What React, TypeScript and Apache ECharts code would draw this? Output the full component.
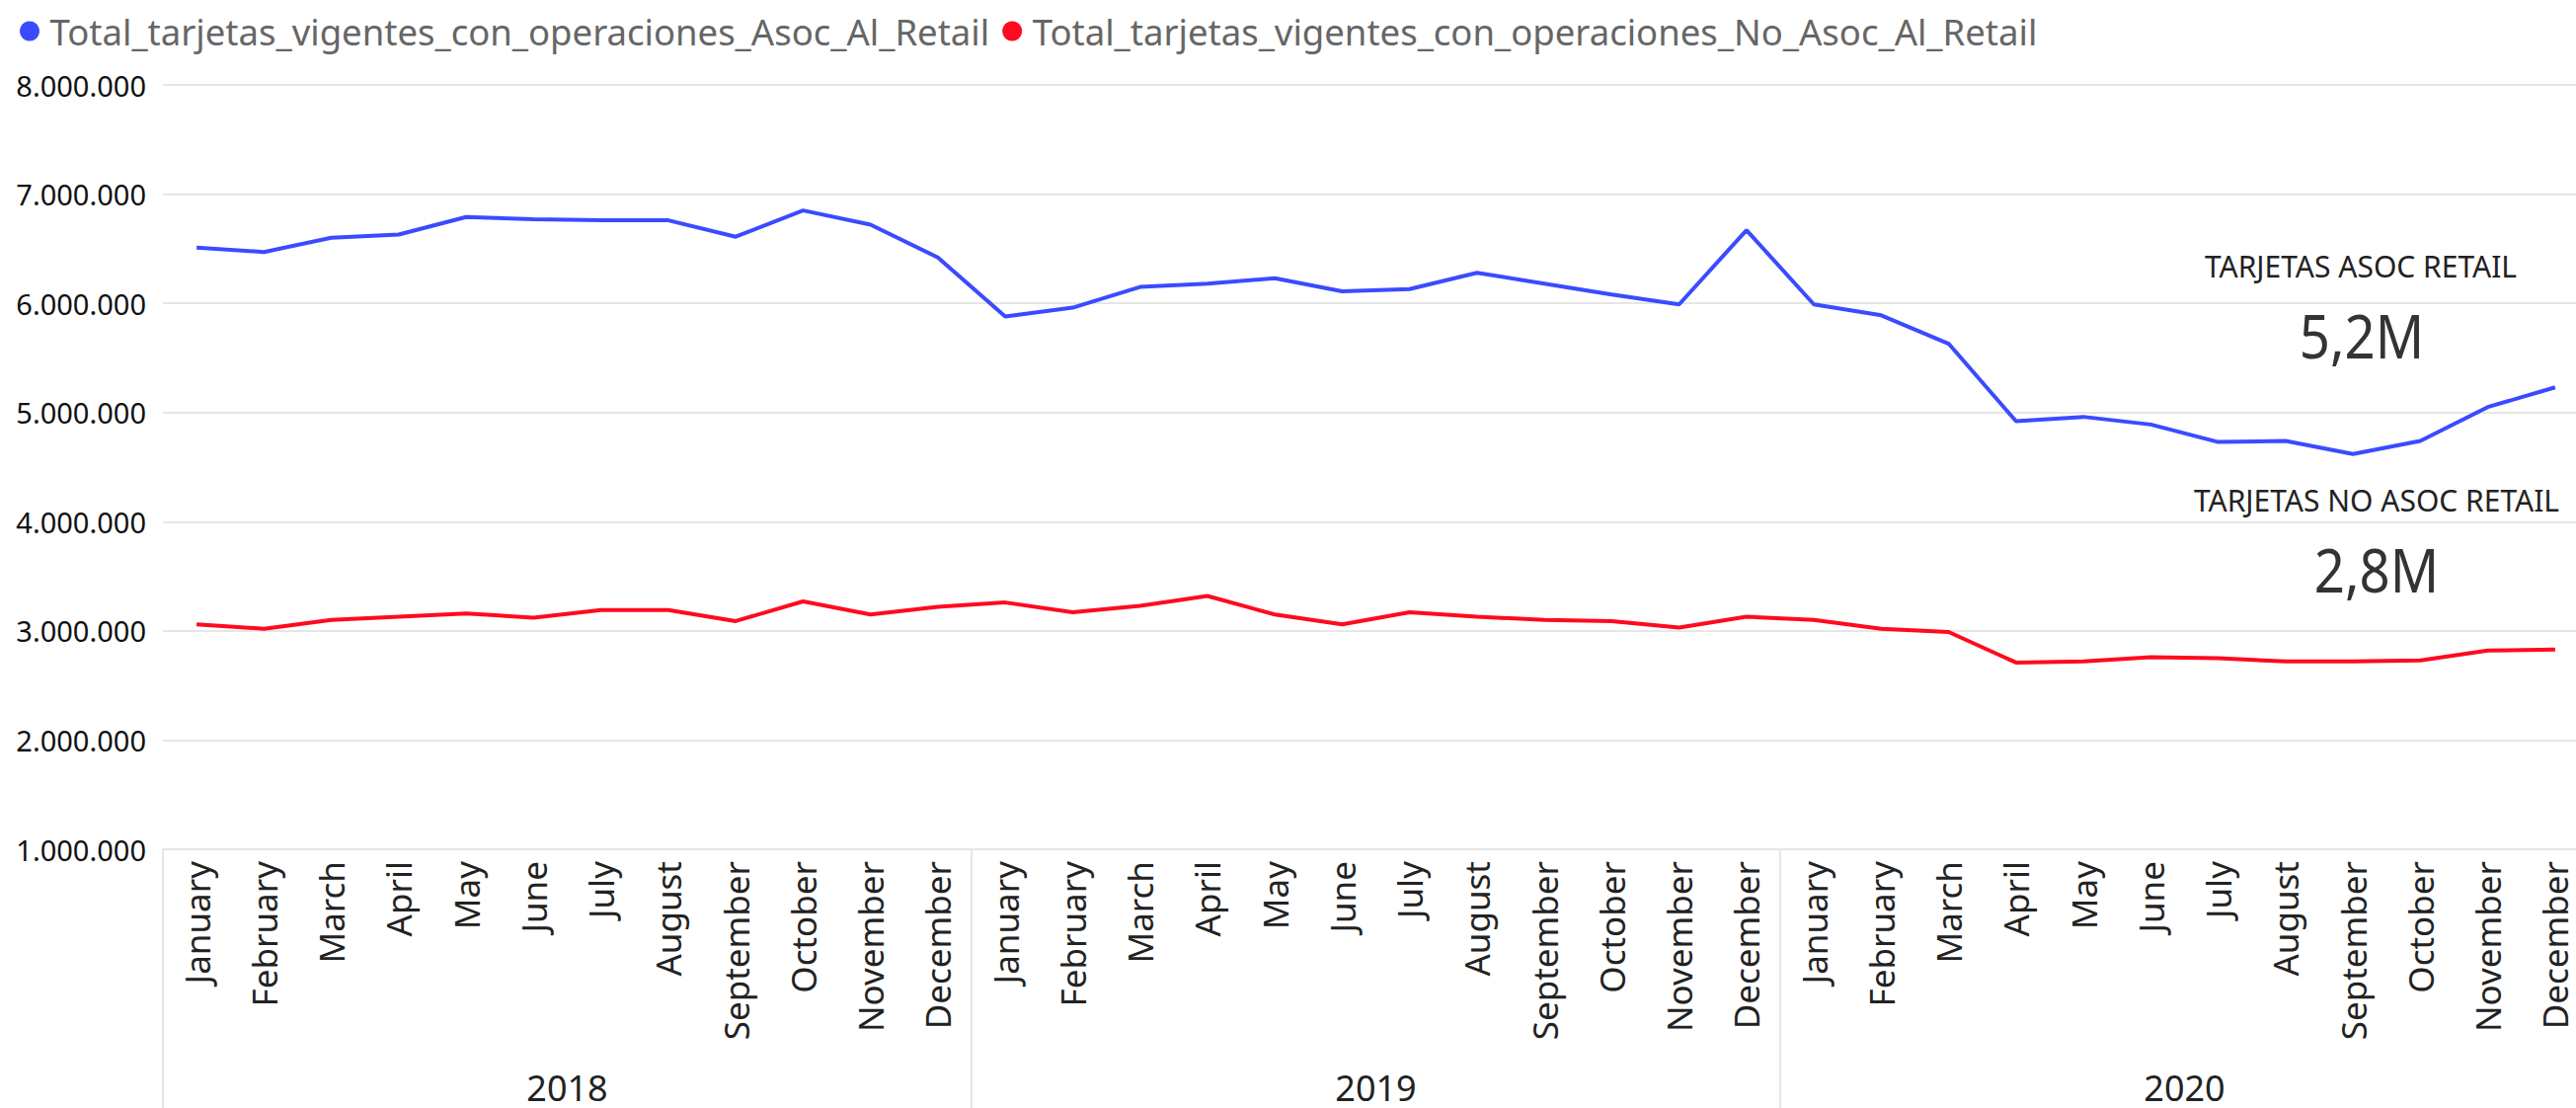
import React, { useEffect, useRef } from "react";
import * as echarts from "echarts";

const years = ["2018", "2019", "2020"];
const months = [
  "January", "February", "March", "April", "May", "June",
  "July", "August", "September", "October", "November", "December",
];
const seriesAsocName = "Total_tarjetas_vigentes_con_operaciones_Asoc_Al_Retail";
const seriesNoAsocName = "Total_tarjetas_vigentes_con_operaciones_No_Asoc_Al_Retail";

const asocValues = [
  6510000, 6470000, 6600000, 6630000, 6790000, 6770000, 6760000, 6760000, 6610000, 6850000, 6720000, 6420000,
  5880000, 5960000, 6150000, 6180000, 6230000, 6110000, 6130000, 6280000, 6180000, 6080000, 5990000, 6670000,
  5990000, 5890000, 5630000, 4920000, 4960000, 4890000, 4730000, 4740000, 4620000, 4740000, 5050000, 5230000,
];
const noAsocValues = [
  3060000, 3020000, 3100000, 3130000, 3160000, 3120000, 3190000, 3190000, 3090000, 3270000, 3150000, 3220000,
  3260000, 3170000, 3230000, 3320000, 3150000, 3060000, 3170000, 3130000, 3100000, 3090000, 3030000, 3130000,
  3100000, 3020000, 2990000, 2710000, 2720000, 2760000, 2750000, 2720000, 2720000, 2730000, 2820000, 2830000,
];
const annotationTitles = ["TARJETAS ASOC RETAIL", "TARJETAS NO ASOC RETAIL"];
const yTicks = { min: 1000000, max: 8000000, interval: 1000000 };

const BLUE = "#3a4bff";
const RED = "#ff0a1e";
const FONT = "'Noto Sans', 'Open Sans', sans-serif";

const fmtThousands = (v: number) =>
  String(Math.round(v)).replace(/\B(?=(\d{3})+(?!\d))/g, ".");
const fmtMillions = (v: number) => (v / 1e6).toFixed(1).replace(".", ",") + "M";

export default function App() {
  const ref = useRef<HTMLDivElement>(null);
  useEffect(() => {
    if (!ref.current) return;
    const chart = echarts.init(ref.current, undefined, { renderer: "svg" });
    const categories: string[] = [];
    years.forEach((y) => months.forEach((m) => categories.push(y + "|" + m)));
    const lastAsoc = asocValues[asocValues.length - 1];
    const lastNoAsoc = noAsocValues[noAsocValues.length - 1];

    chart.setOption({
      animation: false,
      backgroundColor: "#ffffff",
      legend: {
        left: 15,
        top: 8,
        icon: "circle",
        itemWidth: 31,
        itemHeight: 20,
        itemGap: 13,
        textStyle: { fontFamily: FONT, fontSize: 36.5, color: "#666666" },
        data: [seriesAsocName, seriesNoAsocName],
      },
      grid: {
        left: 165,
        top: 86,
        width: 2457,
        height: 774,
        containLabel: false,
        outerBoundsMode: "none",
      },
      xAxis: [
        {
          type: "category",
          data: categories,
          boundaryGap: true,
          position: "bottom",
          axisLine: { show: true, lineStyle: { color: "#e6e6e6", width: 2 } },
          axisTick: { show: false },
          axisLabel: {
            interval: 0,
            rotate: 90,
            margin: 12,
            fontFamily: FONT,
            fontSize: 35,
            color: "#222222",
            hideOverlap: false,
            formatter: (v: string) => v.split("|")[1],
          },
        },
        {
          type: "category",
          data: years,
          boundaryGap: true,
          position: "bottom",
          axisLine: { show: false },
          axisTick: {
            show: true,
            interval: 0,
            length: 262,
            lineStyle: { color: "#e6e6e6", width: 2 },
          },
          axisLabel: {
            interval: 0,
            margin: 222,
            lineHeight: 38,
            fontFamily: FONT,
            fontSize: 36,
            color: "#222222",
          },
        },
      ],
      yAxis: {
        type: "value",
        min: yTicks.min,
        max: yTicks.max,
        interval: yTicks.interval,
        axisLine: { show: false },
        axisTick: { show: false },
        splitLine: { show: true, lineStyle: { color: "#e6e6e6", width: 2 } },
        axisLabel: {
          margin: 17,
          fontFamily: FONT,
          fontSize: 29,
          color: "#111111",
          formatter: (v: number) => fmtThousands(v),
        },
      },
      series: [
        {
          name: seriesAsocName,
          type: "line",
          xAxisIndex: 0,
          data: asocValues,
          symbol: "none",
          color: BLUE,
          lineStyle: { color: BLUE, width: 4 },
        },
        {
          name: seriesNoAsocName,
          type: "line",
          xAxisIndex: 0,
          data: noAsocValues,
          symbol: "none",
          color: RED,
          lineStyle: { color: RED, width: 4 },
        },
      ],
      graphic: [
        {
          type: "text",
          x: 2391,
          y: 269,
          style: {
            text: annotationTitles[0],
            font: `30px ${FONT}`,
            fill: "#222222",
            align: "center",
            verticalAlign: "middle",
          },
        },
        {
          type: "text",
          x: 2392,
          y: 339,
          scaleX: 0.88,
          style: {
            text: fmtMillions(lastAsoc),
            font: `62px ${FONT}`,
            fill: "#333333",
            align: "center",
            verticalAlign: "middle",
          },
        },
        {
          type: "text",
          x: 2407,
          y: 506,
          style: {
            text: annotationTitles[1],
            font: `30px ${FONT}`,
            fill: "#222222",
            align: "center",
            verticalAlign: "middle",
          },
        },
        {
          type: "text",
          x: 2407,
          y: 576,
          scaleX: 0.88,
          style: {
            text: fmtMillions(lastNoAsoc),
            font: `62px ${FONT}`,
            fill: "#333333",
            align: "center",
            verticalAlign: "middle",
          },
        },
      ],
    });
    return () => chart.dispose();
  }, []);

  return (
    <div
      ref={ref}
      style={{ position: "absolute", left: 0, top: 0, width: 2609, height: 1122, background: "#fff" }}
    />
  );
}
